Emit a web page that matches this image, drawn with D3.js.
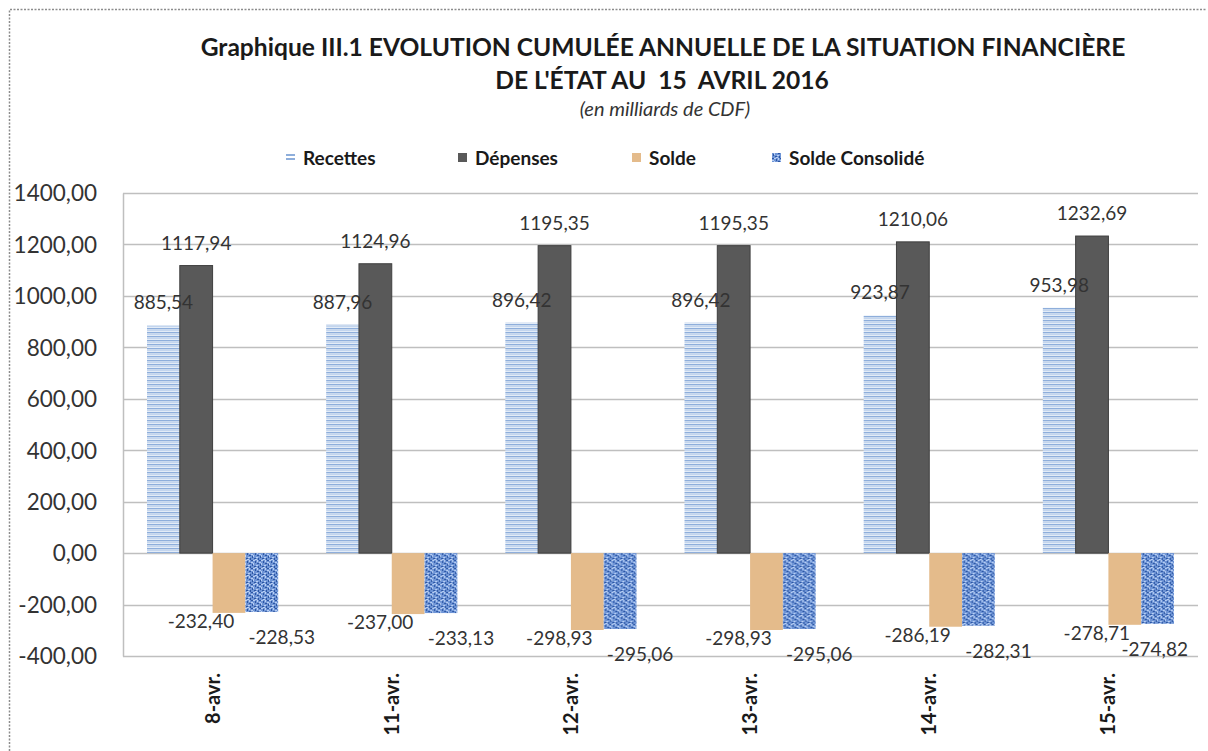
<!DOCTYPE html>
<html lang="fr">
<head>
<meta charset="UTF-8">
<title>Graphique III.1</title>
<script src="https://d3js.org/d3.v7.min.js"></script>
<style>
    body { margin: 0; background: #fff; }
    svg text { font-family: Lato, "Liberation Sans", sans-serif; fill: #1a1a1a; }
    .title { font-size: 24.6px; font-weight: bold; }
    .subtitle { font-size: 20px; font-style: italic; fill: #333; }
    .legend text { font-size: 19px; font-weight: bold; }
    .tick-label { font-size: 22.5px; fill: #333; }
    .cat-label { font-size: 20px; font-weight: bold; }
    .val-label { font-size: 19px; fill: #333; }
</style>
</head>
<body>
<svg id="chart" width="1208" height="751"></svg>
<script>
// data (milliards de CDF)
const categories = ["8-avr.", "11-avr.", "12-avr.", "13-avr.", "14-avr.", "15-avr."];
const seriesNames = ["Recettes", "Dépenses", "Solde", "Solde Consolidé"];
const recettes = [885.54, 887.96, 896.42, 896.42, 923.87, 953.98];
const depenses = [1117.94, 1124.96, 1195.35, 1195.35, 1210.06, 1232.69];
const solde = [-232.40, -237.00, -298.93, -298.93, -286.19, -278.71];
const soldeConsolide = [-228.53, -233.13, -295.06, -295.06, -282.31, -274.82];
const yTicks = [-400, -200, 0, 200, 400, 600, 800, 1000, 1200, 1400];

const seriesValues = [recettes, depenses, solde, soldeConsolide];
const fills = ["url(#stripes)", "#595959", "#e4bb8b", "url(#mottled)"];
const strokes = ["none", "#3f3f3f", "none", "none"];

const fmt = v => v.toFixed(2).replace(".", ",");

const svg = d3.select("#chart");

// patterns
const defs = svg.append("defs");
const stripes = defs.append("pattern")
    .attr("id", "stripes").attr("patternUnits", "userSpaceOnUse")
    .attr("width", 4).attr("height", 4);
stripes.append("rect").attr("width", 4).attr("height", 4).attr("fill", "#e3ecf7");
stripes.append("rect").attr("y", 0).attr("width", 4).attr("height", 1.3).attr("fill", "#8eaedb");
stripes.append("rect").attr("y", 2).attr("width", 4).attr("height", 1).attr("fill", "#c3d5ee");

const mottled = defs.append("pattern")
    .attr("id", "mottled").attr("patternUnits", "userSpaceOnUse")
    .attr("width", 8).attr("height", 8);
mottled.append("rect").attr("width", 8).attr("height", 8).attr("fill", "#6f95d6");
const darkDots = [[0, 0, 2, 1], [4, 1, 1, 2], [6, 3, 2, 1], [1, 4, 1, 2], [3, 6, 2, 1], [7, 6, 1, 2]];
const lightDots = [[2, 0, 2, 1], [0, 2, 2, 1], [5, 5, 2, 1], [2, 3, 1, 2], [6, 0, 1, 2], [4, 7, 2, 1]];
darkDots.forEach(d => mottled.append("rect").attr("x", d[0]).attr("y", d[1])
    .attr("width", d[2]).attr("height", d[3]).attr("fill", "#2c56a3"));
lightDots.forEach(d => mottled.append("rect").attr("x", d[0]).attr("y", d[1])
    .attr("width", d[2]).attr("height", d[3]).attr("fill", "#b9cff2"));

// outer dotted frame
svg.append("path")
    .attr("d", "M9.5,751 V9.5 H1206")
    .attr("fill", "none").attr("stroke", "#8c8c8c")
    .attr("stroke-width", 1.5).attr("stroke-dasharray", "2,1.5");

// titles
svg.append("text").attr("class", "title").attr("x", 663).attr("y", 56)
    .attr("text-anchor", "middle")
    .text("Graphique III.1 EVOLUTION CUMULÉE ANNUELLE DE LA SITUATION FINANCIÈRE");
svg.append("text").attr("class", "title").attr("x", 662).attr("y", 89)
    .attr("text-anchor", "middle").attr("xml:space", "preserve")
    .text("DE L'ÉTAT AU  15  AVRIL 2016");
svg.append("text").attr("class", "subtitle").attr("x", 665).attr("y", 116)
    .attr("text-anchor", "middle").text("(en milliards de CDF)");

// scales
const plotRight = 1198;
const x0 = d3.scaleBand().domain(categories).range([123, plotRight]);
const x1 = d3.scaleBand().domain(seriesNames).range([24, x0.bandwidth() - 24]);
const y = d3.scaleLinear().domain([-400, 1400]).range([656, 193]);

// gridlines
svg.append("g").selectAll("line").data(yTicks).join("line")
    .attr("x1", 123).attr("x2", plotRight)
    .attr("y1", d => Math.round(y(d)) + 0.5).attr("y2", d => Math.round(y(d)) + 0.5)
    .attr("stroke", "#bfbfbf").attr("stroke-width", 1.5);

// y axis
const yAxis = svg.append("g").attr("transform", "translate(123,0)")
    .call(d3.axisLeft(y).tickValues(yTicks).tickSize(0).tickPadding(26).tickFormat(fmt));
yAxis.select(".domain").attr("stroke", "#bfbfbf").attr("stroke-width", 1.5);
yAxis.selectAll("text").attr("class", "tick-label").attr("dy", "0.35em");

// bars
const groups = svg.append("g").selectAll("g").data(categories).join("g")
    .attr("transform", d => `translate(${x0(d)},0)`);

groups.selectAll("rect")
    .data((c, i) => seriesNames.map((s, k) => ({ s, k, c, v: seriesValues[k][i] })))
    .join("rect")
    .attr("x", d => x1(d.s))
    .attr("width", x1.bandwidth())
    .attr("y", d => y(Math.max(0, d.v)))
    .attr("height", d => Math.abs(y(d.v) - y(0)))
    .attr("fill", d => fills[d.k])
    .attr("stroke", d => strokes[d.k]);

// value labels (offsets per series, roughly as placed in the original)
const labelDx = [0, 0, -28, 20];
const labelDy = [-16, -16, 15, 32];
groups.selectAll("text.val-label")
    .data((c, i) => seriesNames.map((s, k) => ({ s, k, c, v: seriesValues[k][i] })))
    .join("text")
    .attr("class", "val-label")
    .attr("text-anchor", "middle")
    .attr("y", d => y(d.v) + labelDy[d.k])
    .text(d => fmt(d.v))
    .attr("x", function (d) {
        // keep the label inside the plot area on the right
        const half = this.getComputedTextLength() / 2;
        const cx = x1(d.s) + x1.bandwidth() / 2 + labelDx[d.k];
        return Math.min(cx, plotRight - 10 - x0(d.c) - half);
    });

// category labels, rotated
svg.append("g").selectAll("text").data(categories).join("text")
    .attr("class", "cat-label")
    .attr("text-anchor", "end")
    .attr("transform", d => `translate(${x0(d) + x0.bandwidth() / 2 + 7},673) rotate(-90)`)
    .text(d => d);

// legend
const legendX = [286, 458, 632, 772];
const legend = svg.append("g").attr("class", "legend");
seriesNames.forEach((s, k) => {
    const g = legend.append("g").attr("transform", `translate(${legendX[k]},158)`);
    if (k === 0) {
        g.append("rect").attr("x", 0).attr("y", -4).attr("width", 9).attr("height", 2).attr("fill", "#8eaedb");
        g.append("rect").attr("x", 0).attr("y", 0).attr("width", 9).attr("height", 2).attr("fill", "#8eaedb");
    } else {
        g.append("rect").attr("x", 0).attr("y", -5).attr("width", 9).attr("height", 9)
            .attr("fill", fills[k]);
    }
    g.append("text").attr("x", 17).attr("y", 0).attr("dy", "0.35em").text(s);
});
</script>
</body>
</html>
